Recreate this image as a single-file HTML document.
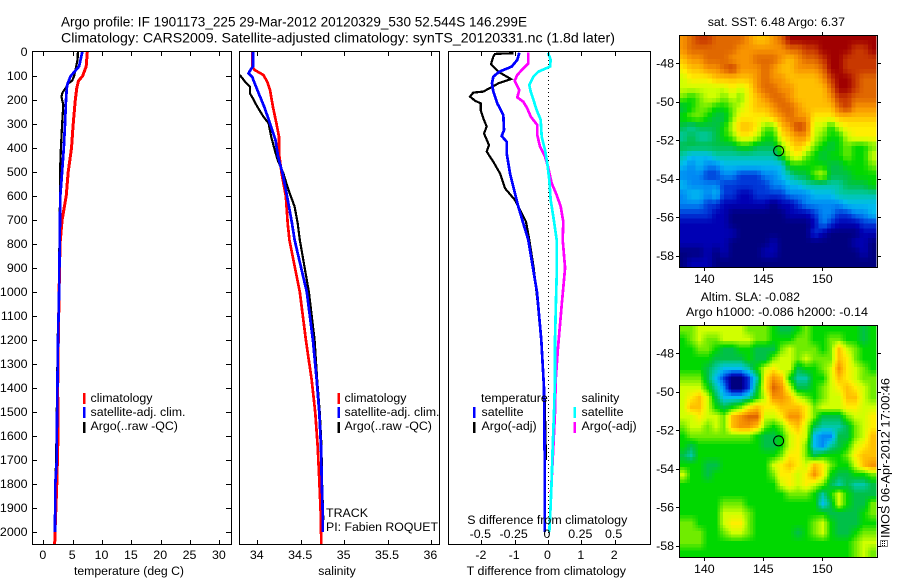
<!DOCTYPE html>
<html>
<head>
<meta charset="utf-8">
<title>Argo profile</title>
<style>
html,body{margin:0;padding:0;background:#fff;}
svg{display:block;}
text{font-family:"Liberation Sans",sans-serif;font-size:12.4px;fill:#000;}
.title{font-size:14px;}
.ax{fill:none;stroke:#000;stroke-width:1;shape-rendering:crispEdges;}
.line{fill:none;shape-rendering:crispEdges;stroke-linejoin:miter;}
</style>
</head>
<body>
<svg id="chart" width="900" height="580" viewBox="0 0 900 580" xmlns="http://www.w3.org/2000/svg">
<text class="title" x="61" y="26.5" textLength="466" lengthAdjust="spacingAndGlyphs">Argo profile: IF 1901173_225 29-Mar-2012 20120329_530 52.544S 146.299E</text>
<text class="title" x="61" y="42.5" textLength="554" lengthAdjust="spacingAndGlyphs">Climatology: CARS2009. Satellite-adjusted climatology: synTS_20120331.nc (1.8d later)</text>

<g id="map-sst"></g>
<g id="map-sla"></g>
<g id="panel-t"></g>
<g id="panel-s"></g>
<g id="panel-d"></g>

<text x="74" y="575" textLength="110" lengthAdjust="spacingAndGlyphs">temperature (deg C)</text>
<text x="318.3" y="575" textLength="37.4" lengthAdjust="spacingAndGlyphs">salinity</text>
<text x="466.7" y="575" textLength="159.3" lengthAdjust="spacingAndGlyphs">T difference from climatology</text>
<text x="467.3" y="524" textLength="160" lengthAdjust="spacingAndGlyphs">S difference from climatology</text>

<g>
<rect x="83" y="393" width="2.5" height="11" fill="#f00"/>
<rect x="83" y="407" width="2.5" height="11" fill="#00f"/>
<rect x="83" y="422" width="2.5" height="11" fill="#000"/>
<text x="90.5" y="402">climatology</text>
<text x="90.5" y="416" textLength="95" lengthAdjust="spacingAndGlyphs">satellite-adj. clim.</text>
<text x="90.5" y="430">Argo(..raw -QC)</text>
</g>
<g>
<rect x="337.5" y="393" width="2.5" height="11" fill="#f00"/>
<rect x="337.5" y="407" width="2.5" height="11" fill="#00f"/>
<rect x="337.5" y="422" width="2.5" height="11" fill="#000"/>
<text x="344.5" y="402">climatology</text>
<text x="344.5" y="416" textLength="95" lengthAdjust="spacingAndGlyphs">satellite-adj. clim.</text>
<text x="344.5" y="430">Argo(..raw -QC)</text>
</g>
<g>
<text x="481" y="402">temperature</text>
<rect x="473" y="407" width="2.5" height="11" fill="#00f"/>
<rect x="473" y="422" width="2.5" height="11" fill="#000"/>
<text x="481.5" y="416">satellite</text>
<text x="481.5" y="430">Argo(-adj)</text>
<text x="581.5" y="402">salinity</text>
<rect x="573.5" y="407" width="2.5" height="11" fill="#0ff"/>
<rect x="573.5" y="422" width="2.5" height="11" fill="#f0f"/>
<text x="581.5" y="416">satellite</text>
<text x="581.5" y="430">Argo(-adj)</text>
</g>
<text x="326" y="517">TRACK</text>
<text x="326" y="531" textLength="112" lengthAdjust="spacingAndGlyphs">PI: Fabien ROQUET</text>

<text x="707.7" y="26" textLength="137.3" lengthAdjust="spacingAndGlyphs">sat. SST: 6.48 Argo: 6.37</text>
<text x="700.7" y="301" textLength="99.3" lengthAdjust="spacingAndGlyphs">Altim. SLA: -0.082</text>
<text x="686" y="316" textLength="182" lengthAdjust="spacingAndGlyphs">Argo h1000: -0.086 h2000: -0.14</text>
<text transform="translate(889.5,538) rotate(-90)" textLength="160" lengthAdjust="spacingAndGlyphs">IMOS 06-Apr-2012 17:00:46</text>
<g stroke="#000" stroke-width="1" stroke-dasharray="1 1" shape-rendering="crispEdges" fill="none">
<rect x="880.5" y="540.5" width="7" height="6"/>
<line x1="882.5" y1="541" x2="882.5" y2="546"/>
<line x1="884.5" y1="541" x2="884.5" y2="546"/>
</g>

<script>
var NS = 'http://www.w3.org/2000/svg';

var depthTicks = [0,100,200,300,400,500,600,700,800,900,1000,1100,1200,1300,1400,1500,1600,1700,1800,1900,2000];
var tempTicks = [0,5,10,15,20,25,30];
var salTicks = [34,34.5,35,35.5,36];
var salTickLabels = ['34','34.5','35','35.5','36'];
var tDiffTicks = [-2,-1,0,1,2];
var tDiffLabels = ['-2','-1','0','1','2'];
var sDiffTicks = [-0.5,-0.25,0,0.25,0.5];
var sDiffLabels = ['-0.5','-0.25','0','0.25','0.5'];
var lonTicks = [140,145,150];
var latTicks = [48,50,52,54,56,58];

var tClimDepth = [0,60,100,120,150,200,300,400,500,600,700,800,1000,1200,1400,1600,1800,2000,2050];
var tClimValue = [7.5,7.3,6.7,6.0,5.7,5.45,5.1,4.8,4.25,3.9,3.2,2.85,2.7,2.55,2.45,2.5,2.3,2.0,1.95];
var tSatDepth = [0,60,80,100,130,150,200,300,400,500,600,700,800,1000,1200,1400,1600,1700,1800,2000];
var tSatValue = [6.65,6.1,5.4,4.66,4.15,4.0,3.87,3.7,3.5,3.2,2.9,2.85,2.8,2.7,2.5,2.4,2.3,2.3,2.05,2.0];
var tArgoDepth = [0,30,60,100,120,130,150,170,185,200,220,300,400,500,600,800,1000,1200,1400,1600,1850];
var tArgoValue = [5.9,5.85,5.6,5.25,4.9,4.3,3.8,3.25,3.1,3.2,3.4,3.2,3.0,2.85,2.85,2.75,2.65,2.45,2.35,2.25,2.05];

var sClimDepth = [0,60,75,96,124,158,228,297,353,422,505,603,714,783,1000,1200,1367,1504,1645,1783,1921,2050];
var sClimValue = [33.94,33.94,33.97,34.07,34.115,34.146,34.18,34.22,34.25,34.25,34.28,34.33,34.35,34.37,34.49,34.56,34.627,34.668,34.696,34.714,34.73,34.737];
var sSatDepth = [0,60,75,89,103,158,228,297,367,436,505,575,644,714,783,1000,1200,1367,1504,1645,1783,1921,2000];
var sSatValue = [33.95,33.95,33.92,33.9,33.94,34.0,34.08,34.146,34.21,34.24,34.29,34.33,34.365,34.4,34.43,34.57,34.64,34.684,34.714,34.734,34.742,34.753,34.753];
var sArgoDepth = [96,124,145,172,194,228,269,297,353,408,450,505,575,644,714,783,1000,1200,1367,1504,1645,1783,1950];
var sArgoValue = [33.8,33.86,33.915,33.915,33.95,34.0,34.07,34.13,34.16,34.2,34.235,34.3,34.36,34.43,34.465,34.49,34.595,34.66,34.69,34.72,34.74,34.745,34.76];

var dtArgoDepth = [5,8,19,51,82,113,131,165,169,186,203,214,242,276,311,339,388,415,457,506,568,617,658,707,783,900,1030,1240,1450,1700];
var dtArgoValue = [-1.04,-1.59,-1.64,-1.71,-1.49,-1.11,-1.49,-1.94,-2.24,-2.34,-2.19,-2.02,-2.02,-1.94,-1.84,-1.92,-1.77,-1.84,-1.64,-1.44,-1.29,-0.99,-0.84,-0.66,-0.56,-0.43,-0.32,-0.18,-0.1,-0.06];
var dtSatDepth = [3,33,61,82,103,131,165,214,262,325,350,374,422,506,589,644,714,783,900,1000,1200,1400,1700,2000];
var dtSatValue = [-0.86,-0.92,-1.09,-1.46,-1.64,-1.68,-1.64,-1.52,-1.34,-1.32,-1.39,-1.24,-1.24,-1.14,-0.99,-0.89,-0.74,-0.59,-0.45,-0.33,-0.2,-0.12,-0.1,-0.1];
var dsArgoDepth = [3,47,68,96,119,138,158,189,207,235,269,304,346,394,436,478,547,596,644,707,783,900,1040,1233,1367,1500,1700,1833];
var dsArgoValue = [-0.1475,-0.1475,-0.185,-0.23,-0.25,-0.235,-0.215,-0.23,-0.185,-0.155,-0.13,-0.08,-0.08,-0.06,-0.0225,0,0.0275,0.065,0.095,0.115,0.11,0.128,0.105,0.075,0.058,0.0525,0.035,0.0225];
var dsSatDepth = [3,33,61,82,103,138,165,207,242,283,353,408,464,533,617,686,783,900,1033,1200,1367,1504,1645,1783,1921,2000];
var dsSatValue = [0,0.02,0.015,-0.0725,-0.11,-0.14,-0.13,-0.105,-0.085,-0.055,-0.0475,-0.0225,-0.005,0.01,0.02,0.04,0.065,0.067,0.06,0.0525,0.0525,0.045,0.035,0.028,0.0175,0.01];

var mapColors = [[0,0,127],[0,0,180],[0,56,216],[0,136,244],[0,188,240],[0,200,168],[0,192,72],[0,216,0],[112,236,0],[208,255,0],[255,238,0],[255,192,0],[248,148,0],[224,104,0],[200,56,0],[160,0,0]];

var sstRows = [
[12,13,14,14,13,13,13,13,12,11,11,12,13,15,15,15,15,15,15,15,15,15,15,15],
[12,13,13,13,13,13,13,12,12,12,12,12,12,13,13,14,14,15,15,15,15,14,14,15],
[11,12,12,13,13,13,12,12,12,13,13,13,12,11,12,13,13,14,15,15,14,14,14,14],
[10,11,11,12,12,13,14,12,12,12,13,12,11,11,12,12,12,13,15,15,14,14,14,14],
[9,10,10,10,11,11,11,11,11,12,13,12,12,11,11,11,11,12,14,15,15,14,13,13],
[9,9,9,9,9,9,10,9,10,12,13,13,12,12,11,11,11,11,13,15,15,14,13,13],
[8,7,8,9,9,8,9,8,10,11,12,13,13,12,11,11,11,11,12,14,14,13,13,13],
[6,7,8,8,7,7,8,9,10,11,11,12,13,13,12,11,11,11,11,13,14,12,12,12],
[7,8,8,7,6,6,8,10,10,10,10,11,12,13,12,12,10,10,10,11,11,11,11,11],
[6,5,6,6,6,7,9,11,11,10,8,8,11,12,14,13,9,9,7,9,10,10,10,10],
[5,6,5,5,6,7,8,10,10,9,7,7,10,11,12,12,9,8,7,7,9,10,10,10],
[6,6,6,6,6,6,6,7,7,6,6,6,8,10,11,10,8,7,6,7,8,7,7,8],
[5,4,4,4,5,5,5,5,5,5,5,5,7,9,10,8,7,6,7,7,8,7,7,9],
[4,3,4,3,3,4,4,4,4,4,4,4,4,7,7,7,7,7,6,6,7,7,7,8],
[3,3,3,2,2,3,3,2,2,2,3,3,4,5,6,6,8,9,6,6,6,7,7,7],
[4,3,3,3,3,2,2,2,2,2,2,3,3,4,4,5,5,5,5,5,6,6,6,7],
[3,4,4,3,4,2,2,1,1,2,2,2,2,3,3,3,4,4,4,5,5,5,5,5],
[3,3,3,2,2,1,1,1,1,1,1,0,1,1,2,3,3,3,3,3,4,4,4,4],
[2,2,2,2,1,1,0,0,0,0,0,0,0,1,1,1,2,3,3,2,2,3,3,4],
[1,1,1,1,1,1,0,0,0,0,0,0,0,0,0,0,1,3,2,1,1,1,2,2],
[1,1,1,1,1,1,1,0,0,0,0,0,0,0,0,0,2,1,0,0,0,0,1,1],
[1,1,1,1,1,1,0,0,0,0,0,1,0,0,0,0,0,0,0,0,0,1,1,0],
[0,0,0,1,0,1,0,0,0,0,1,1,0,0,0,0,0,0,0,0,0,0,1,0],
[0,1,1,1,0,0,0,0,0,0,0,0,0,0,0,0,0,0,0,0,0,0,0,0]
];

var slaRows = [
[8,8,9,9,9,9,9,9,8,8,8,7,6,6,7,8,7,7,7,7,7,7,6,7],
[7,8,9,8,8,9,9,9,9,8,8,7,7,7,8,8,7,7,8,8,7,7,6,7],
[7,7,8,8,7,6,6,7,7,6,6,6,8,9,8,8,8,7,8,11,9,8,7,7],
[7,7,7,7,6,6,6,6,7,6,6,8,9,9,8,9,8,8,8,11,10,8,7,7],
[7,7,7,6,5,4,4,4,5,7,9,10,9,9,6,7,7,8,9,12,10,9,8,7],
[8,8,8,6,4,2,0,0,2,5,10,12,11,7,5,5,7,7,9,11,10,9,8,8],
[9,9,9,7,5,3,0,0,2,6,10,13,12,9,6,6,7,8,9,10,11,10,9,8],
[9,10,11,9,6,4,4,4,5,7,9,12,12,11,9,8,7,8,9,9,11,11,9,8],
[9,11,11,9,7,6,7,8,10,11,10,10,11,11,11,10,8,9,9,9,10,10,9,9],
[9,9,10,9,9,8,11,12,13,13,9,9,10,12,12,10,8,6,6,6,8,9,9,10],
[8,9,9,8,9,8,11,12,12,11,8,7,8,10,11,9,6,5,5,5,6,8,9,10],
[7,8,8,8,8,8,8,8,8,7,6,6,7,9,10,9,4,3,3,6,6,8,9,11],
[7,6,7,7,7,7,7,7,7,7,6,6,7,9,10,8,4,3,5,6,7,9,10,11],
[6,5,7,7,7,7,7,7,7,7,7,7,8,10,10,8,6,7,7,7,8,10,11,11],
[7,7,7,6,6,7,7,7,7,7,7,9,10,11,10,9,11,10,8,7,7,9,11,12],
[9,7,7,6,7,7,7,7,7,7,7,8,10,10,9,10,12,10,7,6,6,7,7,8],
[7,7,7,7,7,7,7,7,7,7,7,7,9,10,9,10,9,8,6,5,6,5,5,6],
[7,7,7,7,7,7,7,7,7,7,7,7,7,8,8,8,7,5,7,9,7,6,6,6],
[7,7,7,7,7,8,8,8,7,7,7,7,7,7,7,7,7,4,6,9,7,6,6,8],
[7,7,7,7,7,9,9,9,8,7,7,7,7,7,7,7,7,7,6,6,6,6,7,8],
[8,8,7,7,7,9,10,10,8,7,7,7,7,7,7,7,8,9,7,6,6,6,7,7],
[8,8,8,7,7,8,9,9,8,7,7,7,7,7,6,7,8,9,7,6,6,7,8,8],
[8,8,8,7,7,7,7,7,7,7,7,7,7,7,7,7,7,7,7,7,7,8,9,9],
[7,7,7,7,7,7,7,7,7,7,7,7,7,7,7,7,7,7,7,7,7,8,9,8]
];

var floatLon = [146.299];
var floatLat = [52.544];

function mk(parent, tag, attrs, txt) {
  var el = document.createElementNS(NS, tag);
  for (var k in attrs) el.setAttribute(k, attrs[k]);
  if (txt !== undefined) el.textContent = txt;
  parent.appendChild(el);
  return el;
}

function yDepth(d) { return 52 + d * 0.24; }
function xTemp(v) { return 43.3 + v * 5.87; }
function xSal(v) { return 257.3 + (v - 34) * 86.8; }
function xDT(v) { return 548 + v * 33.33; }
function xDS(v) { return 548 + v * 133.3; }

function seriesPath(parent, name, xs, depths, scale, color, width) {
  var pts = [];
  for (var i = 0; i < depths.length; i++) {
    pts.push(scale(xs[i]).toFixed(1) + ',' + yDepth(depths[i]).toFixed(1));
  }
  var line = mk(parent, 'polyline', {points: pts.join(' '), 'class': 'line', stroke: color, 'stroke-width': width});
  
  
}

function panelFrame(g, left, right) {
  var frame = mk(g, 'rect', {x: left + 0.5, y: 51.5, width: right - left, height: 493, 'class': 'ax'});
  
  
}

function xTicksIn(g, vals, labels, scale, labelY) {
  for (var i = 0; i < vals.length; i++) {
    var x = Math.round(scale(vals[i])) + 0.5;
    var t1 = mk(g, 'line', {x1: x, x2: x, y1: 52, y2: 56, 'class': 'ax'});
    
    
    var t2 = mk(g, 'line', {x1: x, x2: x, y1: 540, y2: 545, 'class': 'ax'});
    
    
    var lb = mk(g, 'text', {x: scale(vals[i]) - 0.5, y: labelY, 'text-anchor': 'middle'}, labels[i]);
    
    
  }
}

/* temperature panel */
var gT = document.getElementById('panel-t');
seriesPath(gT, 'climatology-temperature-line', tClimValue, tClimDepth, xTemp, '#f00', 3);
seriesPath(gT, 'argo-temperature-line', tArgoValue, tArgoDepth, xTemp, '#000', 2.2);
seriesPath(gT, 'satellite-temperature-line', tSatValue, tSatDepth, xTemp, '#00f', 2.7);
panelFrame(gT, 32, 231);
xTicksIn(gT, tempTicks, tempTicks.map(String), xTemp, 559);
depthTicks.forEach(function (d) {
  var y = Math.round(yDepth(d)) + 0.5;
  if (d > 0) {
    var tl = mk(gT, 'line', {x1: 32, x2: 37, y1: y, y2: y, 'class': 'ax'});
    
    
    var tr = mk(gT, 'line', {x1: 226, x2: 231, y1: y, y2: y, 'class': 'ax'});
    
    
  }
  var lb = mk(gT, 'text', {x: 27.5, y: yDepth(d) + 4, 'text-anchor': 'end'}, String(d));
  
  
});

/* salinity panel */
var gS = document.getElementById('panel-s');
seriesPath(gS, 'climatology-salinity-line', sClimValue, sClimDepth, xSal, '#f00', 2.7);
seriesPath(gS, 'argo-salinity-line', sArgoValue, sArgoDepth, xSal, '#000', 2.2);
seriesPath(gS, 'satellite-salinity-line', sSatValue, sSatDepth, xSal, '#00f', 2.7);
panelFrame(gS, 239, 439);
xTicksIn(gS, salTicks, salTickLabels, xSal, 559);

/* difference panel */
var gD = document.getElementById('panel-d');
var zero = mk(gD, 'line', {x1: 548.5, x2: 548.5, y1: 52, y2: 545, stroke: '#000', 'stroke-width': 1, 'stroke-dasharray': '1 3', 'shape-rendering': 'crispEdges'});


seriesPath(gD, 'argo-t-difference-line', dtArgoValue, dtArgoDepth, xDT, '#000', 2.2);
seriesPath(gD, 'satellite-t-difference-line', dtSatValue, dtSatDepth, xDT, '#00f', 2.7);
seriesPath(gD, 'argo-s-difference-line', dsArgoValue, dsArgoDepth, xDS, '#f0f', 2.7);
seriesPath(gD, 'satellite-s-difference-line', dsSatValue, dsSatDepth, xDS, '#0ff', 2.7);
panelFrame(gD, 448, 650);
xTicksIn(gD, tDiffTicks, tDiffLabels, xDT, 559);
sDiffTicks.forEach(function (v, i) {
  var lb = mk(gD, 'text', {x: xDS(v) - 1, y: 538, 'text-anchor': 'middle'}, sDiffLabels[i]);
  
  
});

/* maps: colour at a fractional grid position is blended from the neighbouring cells */
function colorFor(v) {
  var i = Math.max(0, Math.min(mapColors.length - 2, Math.floor(v)));
  var f = Math.max(0, Math.min(1, v - i));
  var a = mapColors[i], b = mapColors[i + 1];
  return 'rgb(' + Math.round(a[0] + (b[0] - a[0]) * f) + ',' + Math.round(a[1] + (b[1] - a[1]) * f) + ',' + Math.round(a[2] + (b[2] - a[2]) * f) + ')';
}
function sampleGrid(rows, r, c) {
  var nr = rows.length, nc = rows[0].length;
  r = Math.max(0, Math.min(nr - 1, r));
  c = Math.max(0, Math.min(nc - 1, c));
  var r0 = Math.floor(r), c0 = Math.floor(c);
  var r1 = Math.min(nr - 1, r0 + 1), c1 = Math.min(nc - 1, c0 + 1);
  var fr = r - r0, fc = c - c0;
  return (rows[r0][c0] * (1 - fc) + rows[r0][c1] * fc) * (1 - fr) + (rows[r1][c0] * (1 - fc) + rows[r1][c1] * fc) * fr;
}
function drawMap(gid, rows, top, name, sub) {
  var g = document.getElementById(gid);
  var L = 679, R = 876, H = 232;
  var nr = rows.length * sub, nc = rows[0].length * sub;
  function xLon(v) { return 704.3 + (v - 140) * 11.8; }
  function yLat(v) { return top + 28.3 + (v - 48) * 19.27; }
  for (var r = 0; r < nr; r++) {
    for (var c = 0; c < nc; c++) {
      var x0 = L + c * (R - L) / nc;
      var y0 = top + r * H / nr;
      var val = sampleGrid(rows, (r + 0.5) / sub - 0.5, (c + 0.5) / sub - 0.5);
      var cell = mk(g, 'rect', {x: x0.toFixed(2), y: y0.toFixed(2), width: ((R - L) / nc + 0.4).toFixed(2), height: (H / nr + 0.4).toFixed(2), fill: colorFor(val), 'shape-rendering': 'crispEdges'});
      
      
    }
  }
  var frame = mk(g, 'rect', {x: 679.5, y: top + 0.5, width: 198, height: H, 'class': 'ax'});
  
  
  lonTicks.forEach(function (v) {
    var x = Math.round(xLon(v)) + 0.5;
    var a = mk(g, 'line', {x1: x, x2: x, y1: top - 3, y2: top, 'class': 'ax'});
    
    
    var b = mk(g, 'line', {x1: x, x2: x, y1: top + H, y2: top + H + 4, 'class': 'ax'});
    
    
    var lb = mk(g, 'text', {x: xLon(v), y: top + H + 16, 'text-anchor': 'middle'}, String(v));
    
    
  });
  latTicks.forEach(function (v) {
    var y = Math.round(yLat(v)) + 0.5;
    var a = mk(g, 'line', {x1: 676, x2: 679, y1: y, y2: y, 'class': 'ax'});
    
    
    var b = mk(g, 'line', {x1: 878, x2: 881, y1: y, y2: y, 'class': 'ax'});
    
    
    var lb = mk(g, 'text', {x: 674, y: yLat(v) + 4, 'text-anchor': 'end'}, '-' + v);
    
    
  });
  var dot = mk(g, 'circle', {cx: xLon(floatLon[0]), cy: yLat(floatLat[0]), r: 5, fill: 'none', stroke: '#000', 'stroke-width': 1});
  
  
}
drawMap('map-sst', sstRows, 35, 'sst-map', 2);
drawMap('map-sla', slaRows, 325, 'sla-map', 3);
</script>
</svg>
</body>
</html>
